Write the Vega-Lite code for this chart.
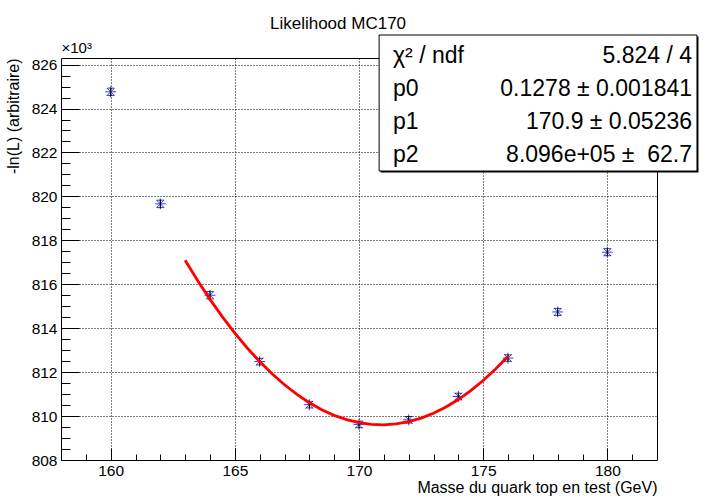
{
  "$schema": "https://vega.github.io/schema/vega-lite/v6.json",
  "width": 596,
  "height": 402,
  "autosize": {"type": "none"},
  "padding": {"left": 61, "top": 58, "right": 53, "bottom": 36},
  "background": "white",
  "config": {
    "font": "Liberation Sans",
    "view": {"stroke": "black", "strokeWidth": 1},
    "axis": {
      "labelFont": "Liberation Sans",
      "titleFont": "Liberation Sans",
      "labelColor": "black",
      "titleColor": "black",
      "tickColor": "black",
      "tickWidth": 1,
      "labelFontSize": 15.5,
      "titleFontSize": 16,
      "titleFontWeight": "normal",
      "domain": false,
      "labelOverlap": false,
      "labelFlush": false
    }
  },
  "title": {
    "text": "Likelihood MC170",
    "frame": "group",
    "anchor": "middle",
    "offset": -11,
    "baseline": "alphabetic",
    "fontSize": 17,
    "fontWeight": "normal",
    "font": "Liberation Sans",
    "color": "black",
    "dx": -21
  },
  "datasets": {
    "pts": [
      {"m": 160, "v": 824.76, "e": 0.17},
      {"m": 162, "v": 819.66, "e": 0.17},
      {"m": 164, "v": 815.5, "e": 0.17},
      {"m": 166, "v": 812.48, "e": 0.15},
      {"m": 168, "v": 810.52, "e": 0.15},
      {"m": 170, "v": 809.62, "e": 0.15},
      {"m": 172, "v": 809.83, "e": 0.15},
      {"m": 174, "v": 810.89, "e": 0.15},
      {"m": 176, "v": 812.64, "e": 0.15},
      {"m": 178, "v": 814.74, "e": 0.16},
      {"m": 180, "v": 817.46, "e": 0.16}
    ],
    "fit": [
      {"m": 163, "v": 817.089},
      {"m": 163.5, "v": 816.171},
      {"m": 164, "v": 815.313},
      {"m": 164.5, "v": 814.515},
      {"m": 165, "v": 813.777},
      {"m": 165.5, "v": 813.099},
      {"m": 166, "v": 812.481},
      {"m": 166.5, "v": 811.923},
      {"m": 167, "v": 811.425},
      {"m": 167.5, "v": 810.987},
      {"m": 168, "v": 810.609},
      {"m": 168.5, "v": 810.291},
      {"m": 169, "v": 810.033},
      {"m": 169.5, "v": 809.835},
      {"m": 170, "v": 809.697},
      {"m": 170.5, "v": 809.619},
      {"m": 171, "v": 809.601},
      {"m": 171.5, "v": 809.643},
      {"m": 172, "v": 809.745},
      {"m": 172.5, "v": 809.907},
      {"m": 173, "v": 810.129},
      {"m": 173.5, "v": 810.411},
      {"m": 174, "v": 810.753},
      {"m": 174.5, "v": 811.155},
      {"m": 175, "v": 811.617},
      {"m": 175.5, "v": 812.139},
      {"m": 176, "v": 812.721}
    ],
    "stats": [
      {"r": 1, "k": "χ² / ndf", "v": "5.824 / 4"},
      {"r": 2, "k": "p0", "v": "0.1278 ± 0.001841"},
      {"r": 3, "k": "p1", "v": "170.9 ± 0.05236"},
      {"r": 4, "k": "p2", "v": "8.096e+05 ±\u00a0 62.7"}
    ]
  },
  "layer": [
    {
      "data": {"name": "pts"},
      "mark": {
        "type": "point",
        "shape": "M-1,0L1,0M0,-1L0,1M-0.7,-0.7L0.7,0.7M-0.7,0.7L0.7,-0.7",
        "filled": false,
        "stroke": "#3a3aff",
        "strokeWidth": 1,
        "size": 120,
        "opacity": 1
      },
      "encoding": {
        "x": {
          "field": "m", "type": "quantitative",
          "scale": {"domain": [158, 182]},
          "axis": {
            "orient": "bottom",
            "title": "Masse du quark top en test (GeV)",
            "values": [160, 165, 170, 175, 180],
            "tickSize": -12,
            "labelPadding": 15,
            "grid": true,
            "gridColor": "black",
            "gridDash": [1, 2],
            "gridOpacity": 1,
            "gridWidth": 1,
            "titleAnchor": "end",
            "titleAlign": "right",
            "titleBaseline": "alphabetic",
            "titleX": 596,
            "titleY": 32
          }
        },
        "y": {
          "field": "v", "type": "quantitative",
          "scale": {"domain": [808, 826.3]},
          "axis": {
            "orient": "left",
            "title": "-ln(L) (arbitraire)",
            "values": [808, 810, 812, 814, 816, 818, 820, 822, 824, 826],
            "tickSize": -18,
            "labelPadding": 22,
            "grid": true,
            "gridColor": "black",
            "gridDash": [1, 2],
            "gridOpacity": 1,
            "gridWidth": 1,
            "titleAngle": 270,
            "titleAlign": "right",
            "titleBaseline": "middle",
            "titleX": -48,
            "titleY": 0
          }
        }
      }
    },
    {
      "data": {"name": "pts"},
      "mark": {
        "type": "errorbar",
        "ticks": {"size": 7, "color": "black"},
        "rule": {"color": "black", "strokeWidth": 1}
      },
      "encoding": {
        "x": {"field": "m", "type": "quantitative", "scale": {"domain": [158, 182]}, "axis": null},
        "y": {"field": "v", "type": "quantitative", "scale": {"domain": [808, 826.3]}, "axis": null},
        "yError": {"field": "e"}
      }
    },
    {
      "data": {"name": "fit"},
      "mark": {"type": "line", "color": "#ff0000", "strokeWidth": 2.8},
      "encoding": {
        "x": {"field": "m", "type": "quantitative", "scale": {"domain": [158, 182]}, "axis": null},
        "y": {"field": "v", "type": "quantitative", "scale": {"domain": [808, 826.3]}, "axis": null}
      }
    },
    {
      "data": {"name": "pts"},
      "mark": {"type": "point", "opacity": 0},
      "encoding": {
        "x": {
          "field": "m", "type": "quantitative",
          "scale": {"domain": [158, 182]},
          "axis": {
            "orient": "bottom",
            "values": [159, 160, 161, 162, 163, 164, 165, 166, 167, 168, 169, 170, 171, 172, 173, 174, 175, 176, 177, 178, 179, 180, 181],
            "tickSize": -6,
            "labels": false,
            "grid": false,
            "title": null
          }
        },
        "y": {
          "field": "v", "type": "quantitative",
          "scale": {"domain": [808, 826.3]},
          "axis": {
            "orient": "left",
            "values": [808, 808.5, 809, 809.5, 810, 810.5, 811, 811.5, 812, 812.5, 813, 813.5, 814, 814.5, 815, 815.5, 816, 816.5, 817, 817.5, 818, 818.5, 819, 819.5, 820, 820.5, 821, 821.5, 822, 822.5, 823, 823.5, 824, 824.5, 825, 825.5, 826],
            "tickSize": -9,
            "labels": false,
            "grid": false,
            "title": "×10³",
            "titleAngle": 0,
            "titleAlign": "left",
            "titleBaseline": "alphabetic",
            "titleX": 0,
            "titleY": -6,
            "titleFontSize": 15
          }
        }
      }
    },
    {
      "layer": [
        {
          "data": {"values": [{}]},
          "mark": {"type": "rect", "fill": "black"},
          "encoding": {
            "x": {"datum": 170.87, "type": "quantitative", "scale": {"domain": [158, 182]}, "axis": null},
            "x2": {"datum": 183.67},
            "y": {"datum": 0.41, "type": "quantitative", "scale": {"domain": [1.0606, 13.24], "reverse": true}, "axis": null},
            "y2": {"datum": 4.53}
          }
        },
        {
          "data": {"values": [{}]},
          "mark": {"type": "rect", "fill": "white", "stroke": "black", "strokeWidth": 1},
          "encoding": {
            "x": {"datum": 170.81, "type": "quantitative", "scale": {"domain": [158, 182]}, "axis": null},
            "x2": {"datum": 183.61},
            "y": {"datum": 0.364, "type": "quantitative", "scale": {"domain": [1.0606, 13.24], "reverse": true}, "axis": null},
            "y2": {"datum": 4.485}
          }
        },
        {
          "data": {"name": "stats"},
          "mark": {"type": "text", "align": "left", "baseline": "middle", "fontSize": 23, "font": "Liberation Sans", "color": "black"},
          "encoding": {
            "x": {"datum": 171.37, "type": "quantitative", "scale": {"domain": [158, 182]}, "axis": null},
            "y": {"field": "r", "type": "quantitative", "scale": {"domain": [1.0606, 13.24], "reverse": true}, "axis": null},
            "text": {"field": "k"}
          }
        },
        {
          "data": {"name": "stats"},
          "mark": {"type": "text", "align": "right", "baseline": "middle", "fontSize": 23, "font": "Liberation Sans", "color": "black"},
          "encoding": {
            "x": {"datum": 183.41, "type": "quantitative", "scale": {"domain": [158, 182]}, "axis": null},
            "y": {"field": "r", "type": "quantitative", "scale": {"domain": [1.0606, 13.24], "reverse": true}, "axis": null},
            "text": {"field": "v"}
          }
        }
      ]
    }
  ],
  "resolve": {
    "scale": {"y": "independent"},
    "axis": {"x": "independent", "y": "independent"}
  }
}
